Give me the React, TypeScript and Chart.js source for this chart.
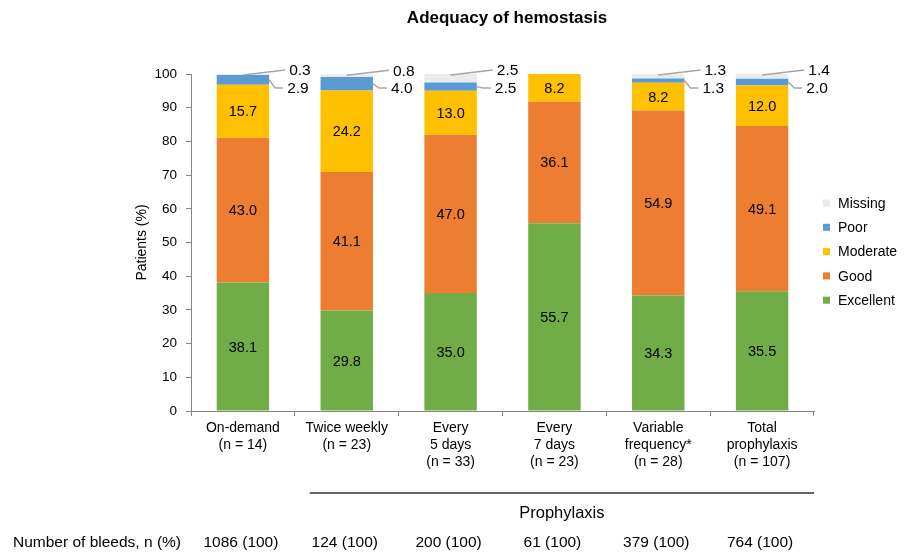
import React, { useEffect, useRef } from "react";
import { Chart, registerables } from "chart.js";

Chart.register(...registerables);

const categories: string[][] = [
  ["On-demand", "(n = 14)"],
  ["Twice weekly", "(n = 23)"],
  ["Every", "5 days", "(n = 33)"],
  ["Every", "7 days", "(n = 23)"],
  ["Variable", "frequency*", "(n = 28)"],
  ["Total", "prophylaxis", "(n = 107)"],
];
const excellent = [38.1, 29.8, 35.0, 55.7, 34.3, 35.5];
const good = [43.0, 41.1, 47.0, 36.1, 54.9, 49.1];
const moderate = [15.7, 24.2, 13.0, 8.2, 8.2, 12.0];
const poor = [2.9, 4.0, 2.5, 0, 1.3, 2.0];
const missing = [0.3, 0.8, 2.5, 0, 1.3, 1.4];
const bleeds = ["1086 (100)", "124 (100)", "200 (100)", "61 (100)", "379 (100)", "764 (100)"];
const yTicks = [0, 10, 20, 30, 40, 50, 60, 70, 80, 90, 100];

const FONT = "'Liberation Sans', Arial, sans-serif";
const COLORS = {
  Excellent: "#70AD47",
  Good: "#ED7D31",
  Moderate: "#FFC000",
  Poor: "#5B9BD5",
  Missing: "#EBEBEB",
};

const decorPlugin = {
  id: "decor",
  afterDatasetsDraw(chart: any) {
    const ctx = chart.ctx as CanvasRenderingContext2D;
    const area = chart.chartArea;
    const yScale = chart.scales.y;
    const xScale = chart.scales.x;
    ctx.save();
    // inside labels
    ctx.fillStyle = "#000";
    ctx.font = `14.5px ${FONT}`;
    ctx.textAlign = "center";
    ctx.textBaseline = "middle";
    [0, 1, 2].forEach((di) => {
      const meta = chart.getDatasetMeta(di);
      const ds = chart.data.datasets[di];
      meta.data.forEach((bar: any, j: number) => {
        const v = ds.data[j];
        if (!v) return;
        ctx.fillText(v.toFixed(1), bar.x, (bar.y + bar.base) / 2 + 1);
      });
    });
    // outside labels with leader lines
    const top100 = yScale.getPixelForValue(100);
    ctx.textAlign = "left";
    ctx.font = `15.5px ${FONT}`;
    ctx.lineWidth = 1.5;
    ctx.strokeStyle = "#A6A6A6";
    const missMeta = chart.getDatasetMeta(4);
    missMeta.data.forEach((bar: any, j: number) => {
      const v = missing[j];
      if (!v) return;
      const right = bar.x + bar.width / 2;
      const t = bar.y;
      ctx.beginPath();
      ctx.moveTo(bar.x, t + 1);
      ctx.lineTo(right + 16, t - 4);
      ctx.stroke();
      ctx.fillText(v.toFixed(1), right + 20, t - 3);
    });
    const poorMeta = chart.getDatasetMeta(3);
    poorMeta.data.forEach((bar: any, j: number) => {
      const v = poor[j];
      if (!v) return;
      const right = bar.x + bar.width / 2;
      const yc = (bar.y + bar.base) / 2;
      const ly = Math.max(yc, top100 + 14);
      ctx.beginPath();
      ctx.moveTo(right, yc);
      ctx.lineTo(right + 6, ly);
      ctx.lineTo(right + 14, ly);
      ctx.stroke();
      ctx.fillText(v.toFixed(1), right + 18, ly + 1);
    });
    // title
    ctx.font = `bold 17px ${FONT}`;
    ctx.textAlign = "center";
    ctx.fillText("Adequacy of hemostasis", 507, 18);
    // y axis title
    ctx.save();
    ctx.translate(142, (area.top + area.bottom) / 2);
    ctx.rotate(-Math.PI / 2);
    ctx.font = `14px ${FONT}`;
    ctx.fillText("Patients (%)", 0, 0);
    ctx.restore();
    // legend (reversed)
    const legend = [
      ["Missing", COLORS.Missing],
      ["Poor", COLORS.Poor],
      ["Moderate", COLORS.Moderate],
      ["Good", COLORS.Good],
      ["Excellent", COLORS.Excellent],
    ];
    ctx.font = `14px ${FONT}`;
    ctx.textAlign = "left";
    legend.forEach(([name, col], i) => {
      const y = 203 + i * 24.3;
      ctx.fillStyle = col;
      ctx.fillRect(823, y - 3.5, 7, 7);
      ctx.fillStyle = "#000";
      ctx.fillText(name, 838, y + 1);
    });
    // prophylaxis bracket
    const x1 = xScale.getPixelForValue(1) - 37;
    const x2 = area.right;
    ctx.strokeStyle = "#333";
    ctx.lineWidth = 1.5;
    ctx.beginPath();
    ctx.moveTo(x1, 493);
    ctx.lineTo(x2, 493);
    ctx.stroke();
    ctx.fillStyle = "#000";
    ctx.font = `16.5px ${FONT}`;
    ctx.textAlign = "center";
    ctx.fillText("Prophylaxis", (x1 + x2) / 2, 513);
    // bleeds row
    ctx.font = `15.5px ${FONT}`;
    ctx.textAlign = "left";
    ctx.fillText("Number of bleeds, n (%)", 13, 543);
    ctx.textAlign = "center";
    bleeds.forEach((b, j) => {
      ctx.fillText(b, xScale.getPixelForValue(j) - 2, 543);
    });
    ctx.restore();
  },
};

export default function App() {
  const ref = useRef<HTMLCanvasElement | null>(null);
  useEffect(() => {
    if (!ref.current) return;
    const mk = (label: string, data: number[], color: string) => ({
      label,
      data,
      backgroundColor: color,
      borderWidth: 0,
      categoryPercentage: 1,
      barPercentage: 0.505,
    });
    const chart = new Chart(ref.current, {
      type: "bar",
      data: {
        labels: categories,
        datasets: [
          mk("Excellent", excellent, COLORS.Excellent),
          mk("Good", good, COLORS.Good),
          mk("Moderate", moderate, COLORS.Moderate),
          mk("Poor", poor, COLORS.Poor),
          mk("Missing", missing, COLORS.Missing),
        ],
      },
      options: {
        animation: false,
        responsive: true,
        maintainAspectRatio: false,
        layout: { padding: { top: 74, left: 0, right: 96, bottom: 0 } },
        plugins: { legend: { display: false }, title: { display: false }, tooltip: { enabled: false } },
        scales: {
          x: {
            stacked: true,
            afterFit: (s: any) => {
              s.height = 144;
            },
            grid: { drawOnChartArea: false, drawTicks: true, tickLength: 5, color: "#868686", offset: true },
            border: { color: "#868686", width: 1 },
            ticks: {
              autoSkip: false,
              maxRotation: 0,
              padding: 4,
              color: "#000",
              font: { family: FONT, size: 14, lineHeight: "17px" } as any,
            },
          },
          y: {
            stacked: true,
            min: 0,
            max: 100,
            afterFit: (s: any) => {
              s.width = 191;
            },
            afterBuildTicks: (s: any) => {
              s.ticks = yTicks.map((v) => ({ value: v }));
            },
            grid: { drawOnChartArea: false, drawTicks: true, tickLength: 5, color: "#868686" },
            border: { color: "#868686", width: 1 },
            ticks: {
              padding: 9,
              color: "#000",
              font: { family: FONT, size: 13.5 },
            },
          },
        },
      },
      plugins: [decorPlugin],
    });
    return () => chart.destroy();
  }, []);
  return (
    <div style={{ position: "fixed", left: 0, top: 0, width: 910, height: 555, background: "#fff" }}>
      <canvas ref={ref} />
    </div>
  );
}
